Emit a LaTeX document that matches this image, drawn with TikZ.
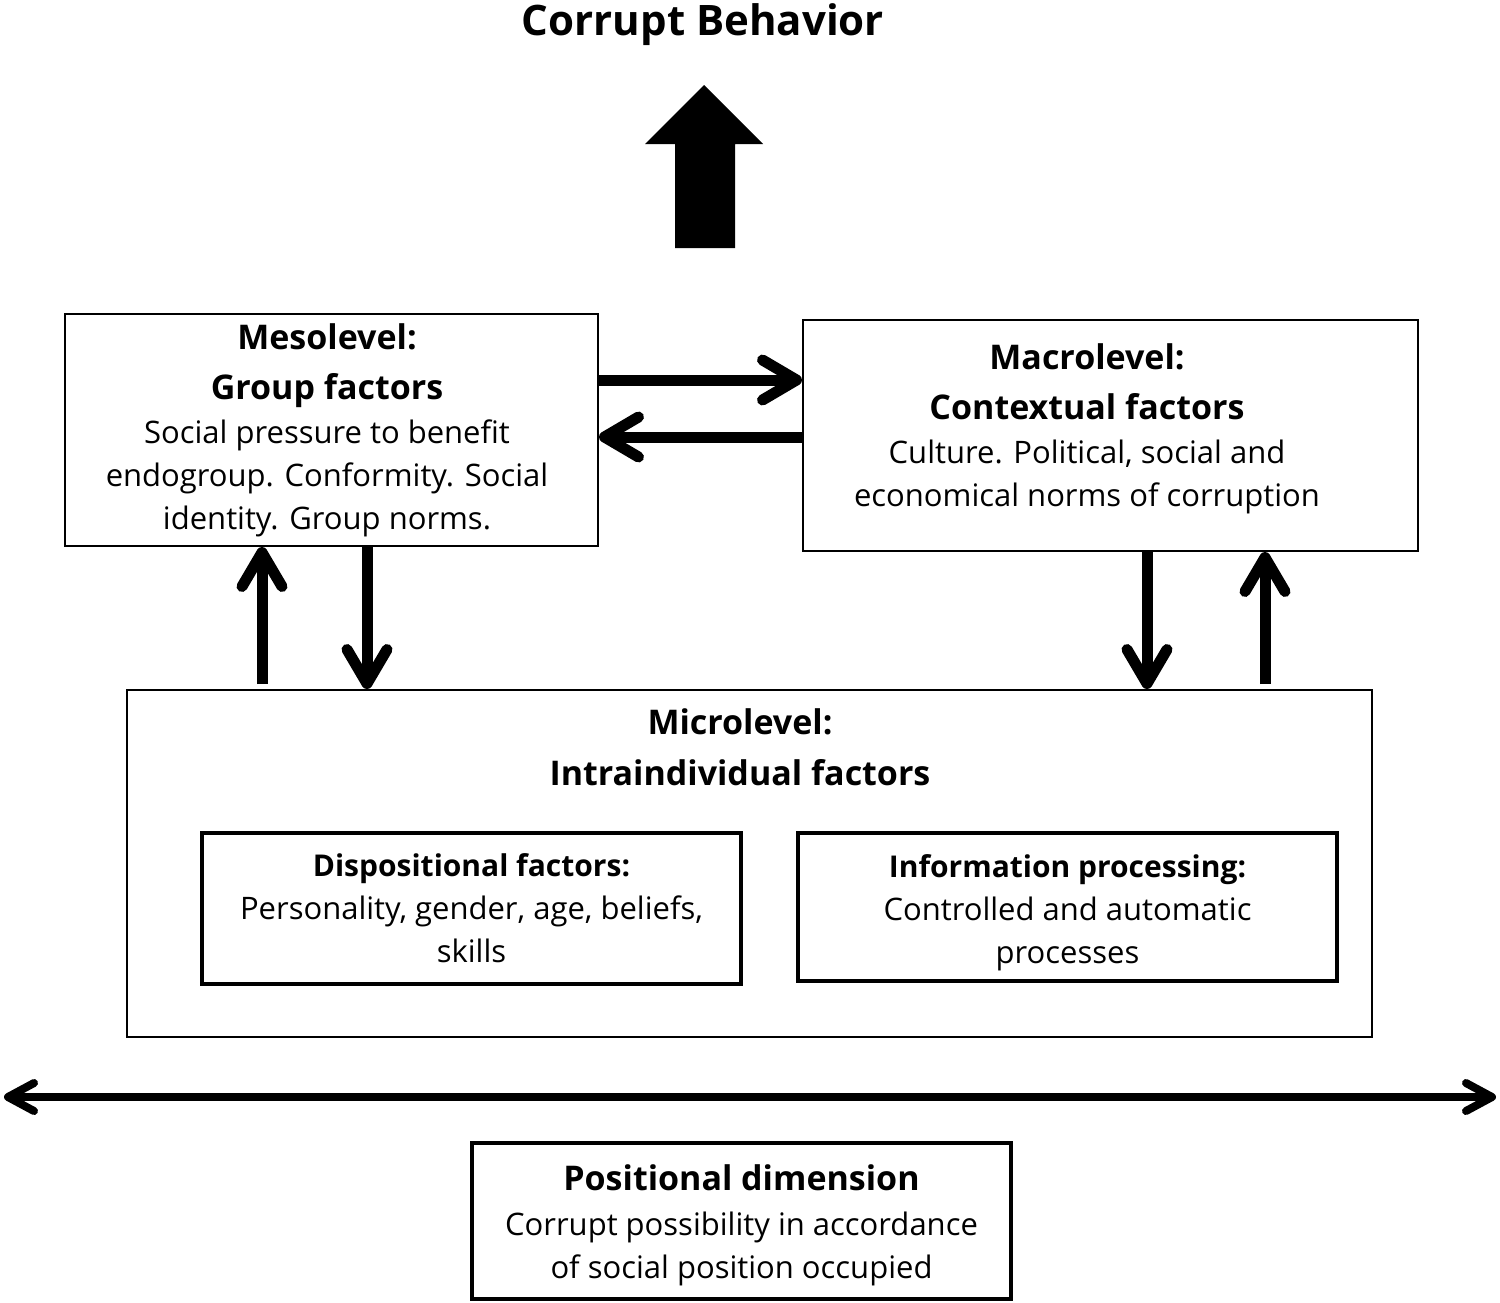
\documentclass[tikz,border=0pt]{standalone}
\usepackage{fontspec}
\setmainfont{Open Sans}
\usetikzlibrary{arrows.meta}
\newcommand{\levelhead}[1]{{\bfseries\fontsize{17}{22}\selectfont #1}}
\newcommand{\boxhead}[1]{{\bfseries\fontsize{15}{22}\selectfont #1}}
\tikzset{
  box/.style={draw, line width=1pt, inner sep=0pt, align=center,
    font=\fontsize{15.5}{21.5}\selectfont},
  thickbox/.style={box, line width=2pt},
  boxtext/.style={inner sep=0pt, align=center, font=\fontsize{15.5}{21.5}\selectfont},
  link/.style={line width=5.5pt, -{Straight Barb[length=17pt,width=20pt,round]}},
  dimline/.style={line width=4pt,
    {Straight Barb[length=13pt,width=14pt,round]}-{Straight Barb[length=13pt,width=14pt,round]}}
}
\begin{document}
\begin{tikzpicture}[x=0.5pt,y=-0.5pt]
  \useasboundingbox (0,0) rectangle (1500,1302);
  % titolo e freccia grande
  \node[font=\bfseries\fontsize{21}{25}\selectfont] (title) at (703,25) {Corrupt Behavior};
  \fill (675,248) -- (675,144) -- (645,144) -- (704,85) -- (763,144)
    -- (735,144) -- (735,248) -- cycle; % freccia verso il comportamento
  % livelli
  \node[box, minimum width=266.5pt, minimum height=116pt] (meso) at (331.5,430) {};
  \node[boxtext] (mesotext) at (327,430)
    {\levelhead{Mesolevel:}\\[3.5pt] \levelhead{Group factors}\\[0.5pt]
     Social pressure to benefit\\ endogroup. Conformity. Social\\ identity. Group norms.};
  \node[box, minimum width=307.5pt, minimum height=115.5pt] (macro) at (1110.5,435.5) {};
  \node[boxtext] (macrotext) at (1087,429)
    {\levelhead{Macrolevel:}\\[3.5pt] \levelhead{Contextual factors}\\[0.5pt]
     Culture. Political, social and\\ economical norms of corruption};
  \node[box, minimum width=622.5pt, minimum height=173.5pt] (micro) at (749.5,863.5) {};
  \node[boxtext] (microhead) at (740,747)
    {\levelhead{Microlevel:}\\[4pt] \levelhead{Intraindividual factors}};
  \node[thickbox, minimum width=269.5pt, minimum height=75.5pt] (disp) at (471.5,908.5)
    {\boxhead{Dispositional factors:}\\ Personality, gender, age, beliefs,\\ skills};
  \node[thickbox, minimum width=269.5pt, minimum height=74pt] (info) at (1067.5,907)
    {\rule{0pt}{17pt}\boxhead{Information processing:}\\ Controlled and automatic\\ processes};
  \node[thickbox, minimum width=269.5pt, minimum height=78pt] (posi) at (741.5,1221)
    {\rule{0pt}{17pt}\levelhead{Positional dimension}\\[1pt] Corrupt possibility in accordance\\ of social position occupied};
  % frecce fra i livelli
  \draw[link] (meso.east |- 0,380) -- (macro.west |- 0,380); % meso -> macro
  \draw[link] (macro.west |- 0,437) -- (meso.east |- 0,437); % macro -> meso
  \draw[link, shorten <=2.5pt] (micro.north -| 262,0) -- (meso.south -| 262,0); % micro -> meso
  \draw[link] (meso.south -| 367,0) -- (micro.north -| 367,0); % meso -> micro
  \draw[link] (macro.south -| 1147,0) -- (micro.north -| 1147,0); % macro -> micro
  \draw[link, shorten <=2.5pt] (micro.north -| 1265,0) -- (macro.south -| 1265,0); % micro -> macro
  % asse posizionale
  \coordinate (westend) at (4,1097);
  \coordinate (eastend) at (1496,1097);
  \draw[dimline] (westend) -- (eastend);
\end{tikzpicture}
\end{document}
